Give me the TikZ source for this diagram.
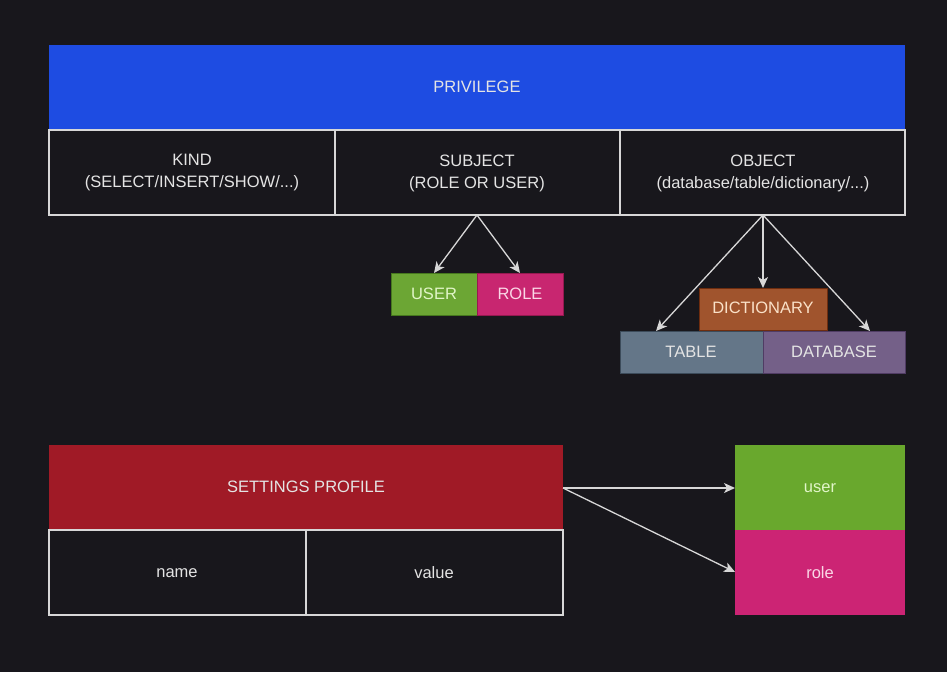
\documentclass[tikz,border=0pt]{standalone}
\usepackage{fontspec}
\setmainfont{Liberation Sans}
\usetikzlibrary{arrows.meta}
\definecolor{bg}{RGB}{24,23,28}
\definecolor{edge}{RGB}{215,215,215}
\definecolor{privblue}{RGB}{30,76,226}
\definecolor{ugreen}{RGB}{108,166,52}
\definecolor{ugreenline}{RGB}{70,120,30}
\definecolor{rpink}{RGB}{200,38,112}
\definecolor{rpinkline}{RGB}{150,25,80}
\definecolor{dbrown}{RGB}{160,84,45}
\definecolor{dbrownline}{RGB}{110,45,15}
\definecolor{tgray}{RGB}{100,118,136}
\definecolor{tgrayline}{RGB}{60,75,90}
\definecolor{dpurple}{RGB}{116,96,136}
\definecolor{dpurpleline}{RGB}{80,60,100}
\definecolor{sred}{RGB}{160,26,38}
\definecolor{uuser}{RGB}{105,168,45}
\definecolor{urole}{RGB}{204,36,116}
\definecolor{txt}{RGB}{228,228,228}
\definecolor{txtgreen}{RGB}{225,245,200}
\definecolor{txtpink}{RGB}{250,215,230}
\definecolor{txtpeach}{RGB}{250,225,200}
\begin{document}
\begin{tikzpicture}[x=1pt,y=-1pt,
  every node/.style={font=\fontsize{16.5}{22}\selectfont, text=txt, inner sep=0pt, align=center},
  cell/.style={draw=edge, line width=1.2pt, fill=bg},
  colbox/.style={line width=1pt},
  conn/.style={draw=edge, line width=1.3pt, -{Stealth[length=11pt,width=10pt,inset=3pt]}}]
\fill[bg] (0,0) rectangle (947,672);
\useasboundingbox (0,0) rectangle (947,672);
% PRIVILEGE block
\fill[privblue] (49,45) rectangle (905,130);
\node (priv) at (477,87) {PRIVILEGE};
\draw[cell] (49,130) rectangle (335,215);
\draw[cell] (335,130) rectangle (620,215);
\draw[cell] (620,130) rectangle (905,215);
\node (kind) at (192,173) {KIND\\(SELECT/INSERT/SHOW/...)};
\node (subj) at (477,173) {SUBJECT\\(ROLE OR USER)};
\node (obj) at (763,173) {OBJECT\\(database/table/dictionary/...)};
\coordinate (subjb) at (477,215);
\coordinate (objb) at (763,215);
% USER / ROLE
\draw[colbox, fill=ugreen, draw=ugreenline] (391,273) rectangle (477,315);
\draw[colbox, fill=rpink, draw=rpinkline] (477,273) rectangle (563,315);
\node[text=txtgreen] (user) at (434,294) {USER};
\node[text=txtpink] (role) at (520,294) {ROLE};
\coordinate (usert) at (434,273);
\coordinate (rolet) at (520,273);
\draw[conn] (subjb) -- (usert);
\draw[conn] (subjb) -- (rolet);
% Objects
\draw[colbox, fill=dbrown, draw=dbrownline] (699,288) rectangle (827,330);
\draw[colbox, fill=tgray, draw=tgrayline] (620,331) rectangle (763,373);
\draw[colbox, fill=dpurple, draw=dpurpleline] (763,331) rectangle (905,373);
\node[text=txtpeach] (dict) at (763,308) {DICTIONARY};
\node (table) at (691,352) {TABLE};
\node (db) at (834,352) {DATABASE};
\coordinate (dictt) at (763,288);
\coordinate (tablet) at (656,331);
\coordinate (dbt) at (870,331);
\draw[conn] (objb) -- (tablet);
\draw[conn] (objb) -- (dictt);
\draw[conn] (objb) -- (dbt);
% SETTINGS PROFILE
\fill[sred] (49,445) rectangle (563,530);
\node (sp) at (306,487) {SETTINGS PROFILE};
\draw[cell] (49,530) rectangle (306,615);
\draw[cell] (306,530) rectangle (563,615);
\node (name) at (177,573) {name};
\node (value) at (434,573) {value};
\coordinate (spr) at (563,488);
% user / role
\fill[uuser] (735,445) rectangle (905,530);
\fill[urole] (735,530) rectangle (905,615);
\node[text=txtgreen] (u2) at (820,488) {user};
\node[text=txtpink] (r2) at (820,573) {role};
\coordinate (u2l) at (735,488);
\coordinate (r2l) at (735,572);
\draw[conn] (spr) -- (u2l);
\draw[conn] (spr) -- (r2l);
\end{tikzpicture}
\end{document}
